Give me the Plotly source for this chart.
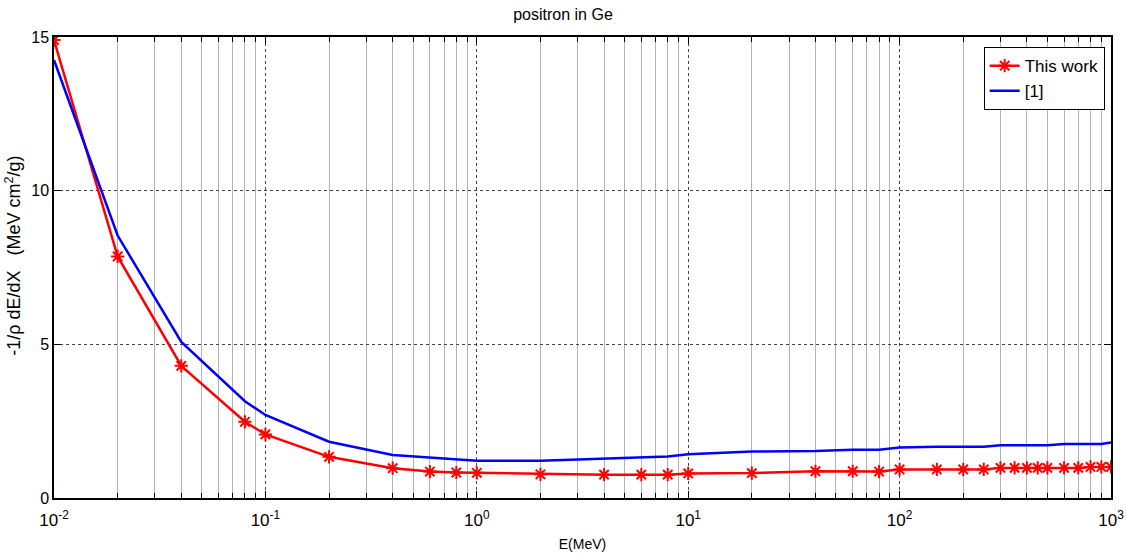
import plotly.graph_objects as go

energy = [0.01, 0.02, 0.04, 0.08, 0.1, 0.2, 0.4, 0.6, 0.8, 1, 2, 4, 6, 8, 10, 20, 40, 60, 80,
          100, 150, 200, 250, 300, 350, 400, 450, 500, 600, 700, 800, 900, 1000]
this_work = [14.9, 7.86, 4.3, 2.48, 2.07, 1.34, 0.97, 0.86, 0.83, 0.82, 0.77, 0.76, 0.76, 0.76, 0.80, 0.81,
             0.87, 0.87, 0.86, 0.93, 0.93, 0.93, 0.93, 0.98, 0.98, 0.98, 0.98, 0.98, 0.98, 0.98, 1.01, 1.01, 1.01]
ref1 = [14.25, 8.54, 5.08, 3.15, 2.7, 1.83, 1.40, 1.31, 1.26, 1.21, 1.21, 1.29, 1.33, 1.35, 1.42, 1.51,
        1.53, 1.57, 1.57, 1.64, 1.67, 1.67, 1.67, 1.72, 1.72, 1.72, 1.72, 1.72, 1.76, 1.76, 1.76, 1.76, 1.81]

x_tick_vals = [0.01, 0.1, 1, 10, 100, 1000]
x_tick_text = ["10<sup>-2</sup>", "10<sup>-1</sup>", "10<sup>0</sup>", "10<sup>1</sup>", "10<sup>2</sup>", "10<sup>3</sup>"]
y_ticks = [0, 5, 10, 15]
FONT = "Liberation Sans Narrow, Arial Narrow, Liberation Sans, Arial"

fig = go.Figure()
fig.add_trace(go.Scatter(x=energy, y=this_work, name="This work", mode="lines+markers",
                         line=dict(color="#ff0000", width=2.5),
                         marker=dict(symbol="asterisk-open", size=11, color="#ff0000",
                                     line=dict(color="#ff0000", width=2))))
fig.add_trace(go.Scatter(x=energy, y=ref1, name="[1]", mode="lines",
                         line=dict(color="#0000ff", width=2.5)))

fig.update_layout(
    width=1126, height=560,
    margin=dict(l=54, r=15, t=37, b=62),
    paper_bgcolor="white", plot_bgcolor="white",
    font=dict(family=FONT, size=14, color="black"),
    title=dict(text="positron in Ge", x=0.5, xanchor="center", y=0.985, yanchor="top",
               font=dict(family=FONT, size=16)),
    showlegend=True,
    legend=dict(x=0.994, xanchor="right", y=0.978, yanchor="top",
                bordercolor="black", borderwidth=1, bgcolor="white",
                font=dict(family=FONT, size=17), tracegroupgap=0),
    annotations=[dict(text="-1/ρ dE/dX   (MeV cm<sup>2</sup>/g)", textangle=-90,
                      xref="paper", yref="paper", x=-0.038, y=0.525,
                      xanchor="center", yanchor="middle", showarrow=False,
                      font=dict(family="Liberation Sans, Arial", size=18))],
)
fig.update_xaxes(
    type="log", range=[-2, 3], tickvals=x_tick_vals, ticktext=x_tick_text, automargin=False,
    showline=True, linecolor="black", linewidth=1.5, mirror="allticks",
    ticks="inside", ticklen=7, tickcolor="black", ticklabelstandoff=6,
    showgrid=True, gridcolor="#444444", griddash="dot", gridwidth=1,
    minor=dict(tickvals=[m * d for d in [0.01, 0.1, 1, 10, 100] for m in range(2, 10)],
               showgrid=True, gridcolor="#b4b4b4", gridwidth=1, griddash="solid",
               ticks="inside", ticklen=5, tickcolor="black"),
    tickfont=dict(family=FONT, size=17),
    title=dict(text="E(MeV)", font=dict(family=FONT, size=14), standoff=10),
    zeroline=False,
)
fig.update_yaxes(
    range=[0, 15], tickvals=y_ticks, automargin=False,
    showline=True, linecolor="black", linewidth=1.5, mirror="allticks",
    ticks="inside", ticklen=7, tickcolor="black",
    showgrid=True, gridcolor="#444444", griddash="dot", gridwidth=1,
    tickfont=dict(family=FONT, size=16),
    zeroline=False,
)

fig.write_html("out.html")
